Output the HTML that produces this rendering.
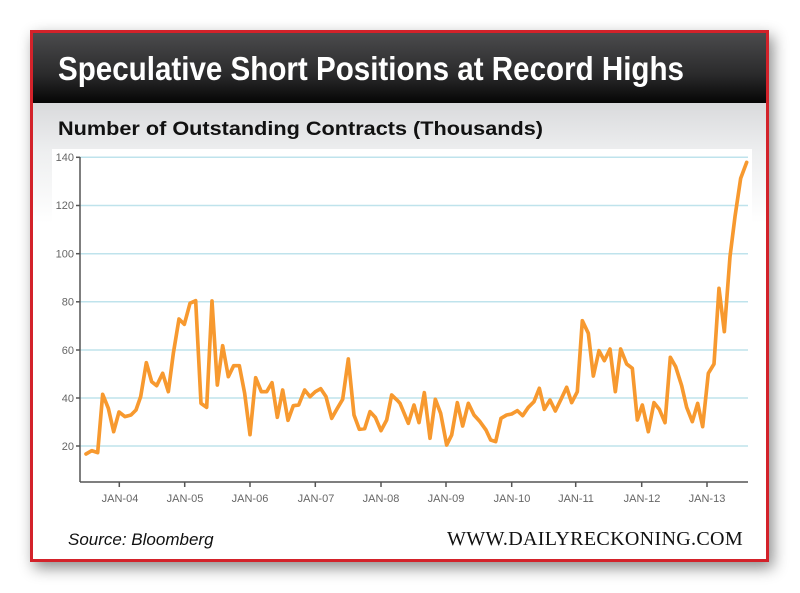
<!DOCTYPE html>
<html><head><style>
html,body{margin:0;padding:0;background:#fff;}
body{width:800px;height:593px;position:relative;overflow:hidden;font-family:"Liberation Sans",sans-serif;}
#frame{position:absolute;left:30px;top:30px;width:733px;height:526px;border:3px solid #d3222a;background:#fff;box-shadow:4px 6px 14px rgba(0,0,0,0.45);}
#bar{position:absolute;left:0;top:0;width:733px;height:70px;background:linear-gradient(#4b4b4d,#2a2a2b 60%,#050505);}
#title{position:absolute;left:25px;top:17px;font-family:"Liberation Sans Narrow","Liberation Sans",sans-serif;font-weight:bold;font-size:33px;color:#fff;white-space:nowrap;transform-origin:0 0;}
#band{position:absolute;left:0;top:70px;width:733px;height:456px;background:linear-gradient(#d9dadc,#eeeff0 50px,#fff 120px);}
#sub{position:absolute;left:25px;top:86px;font-weight:bold;font-size:19px;color:#111;white-space:nowrap;}
#src{position:absolute;left:35px;top:497px;font-style:italic;font-size:17px;color:#111;}
#web{position:absolute;left:414px;top:496px;font-family:"Liberation Serif",serif;font-size:19.5px;color:#111;letter-spacing:0.3px;}
svg{position:absolute;left:0;top:0;}
</style></head><body>
<div id="frame">
<div id="bar"><div id="title">Speculative Short Positions at Record Highs</div></div>
<div id="band"></div>
<div id="sub">Number of Outstanding Contracts (Thousands)</div>
<div id="src">Source: Bloomberg</div>
<div id="web">WWW.DAILYRECKONING.COM</div>
</div>
<svg width="800" height="593">
<rect x="52" y="149" width="700" height="340" fill="#fff"/>
<g stroke="#bfe3ec" stroke-width="1.5">
<line x1="80" x2="748" y1="157.3" y2="157.3"/><line x1="80" x2="748" y1="205.5" y2="205.5"/><line x1="80" x2="748" y1="253.7" y2="253.7"/><line x1="80" x2="748" y1="301.8" y2="301.8"/><line x1="80" x2="748" y1="350" y2="350"/><line x1="80" x2="748" y1="398" y2="398"/><line x1="80" x2="748" y1="446" y2="446"/>
</g>
<g stroke="#555" stroke-width="1.5">
<line x1="80" y1="157" x2="80" y2="482"/><line x1="80" y1="482" x2="748" y2="482"/>
<line x1="76" x2="80" y1="157.3" y2="157.3"/><line x1="76" x2="80" y1="205.5" y2="205.5"/><line x1="76" x2="80" y1="253.7" y2="253.7"/><line x1="76" x2="80" y1="301.8" y2="301.8"/><line x1="76" x2="80" y1="350" y2="350"/><line x1="76" x2="80" y1="398" y2="398"/><line x1="76" x2="80" y1="446" y2="446"/>
<line x1="119.3" x2="119.3" y1="482" y2="487"/><line x1="184.7" x2="184.7" y1="482" y2="487"/><line x1="250" x2="250" y1="482" y2="487"/><line x1="315.3" x2="315.3" y1="482" y2="487"/><line x1="381" x2="381" y1="482" y2="487"/><line x1="446" x2="446" y1="482" y2="487"/><line x1="511.7" x2="511.7" y1="482" y2="487"/><line x1="575.7" x2="575.7" y1="482" y2="487"/><line x1="641.7" x2="641.7" y1="482" y2="487"/><line x1="707" x2="707" y1="482" y2="487"/>
</g>
<g font-family="Liberation Sans Narrow,Liberation Sans,sans-serif" font-size="11" fill="#666" text-anchor="end">
<text x="74" y="161">140</text><text x="74" y="209">120</text><text x="74" y="257.5">100</text><text x="74" y="305.5">80</text><text x="74" y="354">60</text><text x="74" y="402">40</text><text x="74" y="450">20</text>
</g>
<g font-family="Liberation Sans Narrow,Liberation Sans,sans-serif" font-size="11" fill="#666" text-anchor="middle">
<text x="120" y="502">JAN-04</text><text x="185" y="502">JAN-05</text><text x="250" y="502">JAN-06</text><text x="316" y="502">JAN-07</text><text x="381" y="502">JAN-08</text><text x="446" y="502">JAN-09</text><text x="512" y="502">JAN-10</text><text x="576" y="502">JAN-11</text><text x="642" y="502">JAN-12</text><text x="707" y="502">JAN-13</text>
</g>
<g transform="translate(50,140) scale(0.33333)" fill="none" stroke="#f7992f" stroke-width="11" stroke-linejoin="round" stroke-linecap="round">
<polyline points="108,942 125,932 143,938 158,763 175,805 191,875 207,816 225,830 243,825 258,810 272,770 289,668 305,725 320,737 338,700 355,755 370,640 387,537 403,553 420,490 437,482 453,790 470,802 486,483 502,735 518,617 535,710 551,677 568,677 584,760 600,884 617,713 634,755 650,755 666,728 682,832 698,750 714,841 730,797 746,795 764,750 780,770 796,755 812,746 828,770 845,835 862,805 878,778 895,657 912,825 928,868 944,866 960,815 976,832 993,872 1010,840 1025,765 1043,782 1050,790 1075,850 1092,795 1107,848 1123,758 1140,895 1156,778 1172,820 1190,915 1205,885 1222,788 1238,858 1255,790 1272,825 1290,845 1308,870 1322,900 1337,905 1353,835 1370,825 1385,822 1402,812 1418,827 1435,802 1452,785 1468,745 1483,808 1500,780 1516,813 1533,778 1550,742 1565,788 1582,755 1597,542 1615,580 1630,708 1647,632 1663,662 1680,627 1696,755 1712,627 1730,672 1747,685 1762,840 1777,795 1795,875 1812,788 1828,808 1845,848 1861,652 1877,680 1895,737 1910,802 1927,845 1943,790 1958,860 1975,700 1992,672 2007,445 2023,575 2040,350 2055,230 2072,115 2090,67"/>
</g>
</svg>
<script>
var t=document.getElementById('title');var w=t.getBoundingClientRect().width;t.style.transform='scaleX('+(626/w)+')';
var s=document.getElementById('sub');var w2=s.getBoundingClientRect().width;s.style.transform='scaleX('+(485/w2)+')';s.style.transformOrigin='0 0';
var b=document.getElementById('web');var w3=b.getBoundingClientRect().width;b.style.transform='scaleX('+(296/w3)+')';b.style.transformOrigin='0 0';
</script>
</body></html>
